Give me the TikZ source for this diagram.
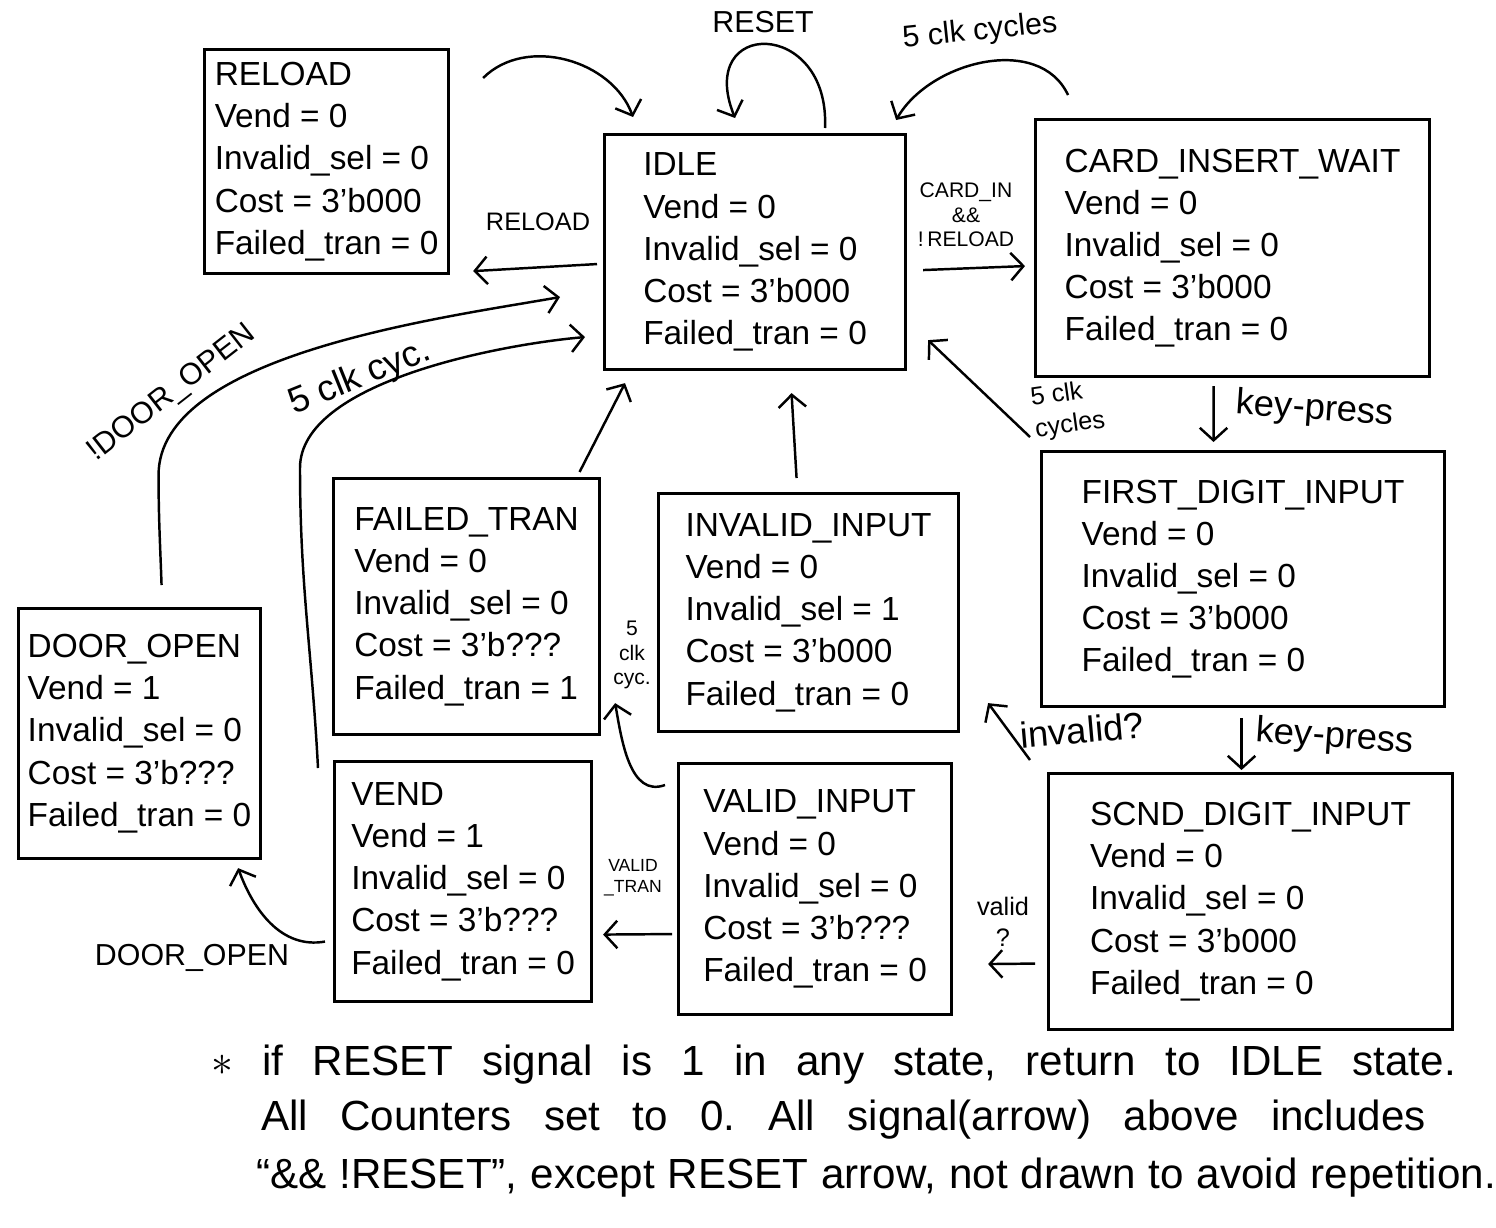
\documentclass[tikz,border=0pt]{standalone}
\usepackage{fontspec}
\setmainfont{Liberation Sans}
\usetikzlibrary{arrows.meta}

\begin{document}
\begin{tikzpicture}[x=0.02cm, y=-0.02cm,
        state/.style={draw, line width=1.8pt, anchor=north west, align=left,
            font=\fontsize{19}{24}\selectfont},
        arr/.style={line width=1.4pt, -{Straight Barb[length=2.5mm, width=5.5mm]}},
        lbl/.style={font=\Large, align=center},
        note/.style={anchor=west, font=\fontsize{24}{30}\selectfont\frenchspacing}]

        % Page frame
        \useasboundingbox (0,0) rectangle (1496,1227);

        % States
        \node[state, minimum width=4.88cm, minimum height=4.48cm] (reload) at (203,48) {
            RELOAD\\Vend = 0\\Invalid\_sel = 0\\Cost = 3'b000\\Failed\_tran = 0
        };
        \node[state, minimum width=6.02cm, minimum height=4.70cm] (idle) at (603,133) {
            IDLE\\Vend = 0\\Invalid\_sel = 0\\Cost = 3'b000\\Failed\_tran = 0
        };
        \node[state, minimum width=7.88cm, minimum height=5.14cm] (cardwait) at (1034,118) {
            CARD\_INSERT\_WAIT\\Vend = 0\\Invalid\_sel = 0\\Cost = 3'b000\\Failed\_tran = 0
        };
        \node[state, minimum width=8.06cm, minimum height=5.10cm] (firstdig) at (1040,450) {
            FIRST\_DIGIT\_INPUT\\Vend = 0\\Invalid\_sel = 0\\Cost = 3'b000\\Failed\_tran = 0
        };
        \node[state, minimum width=8.08cm, minimum height=5.12cm] (scnddig) at (1047,772) {
            SCND\_DIGIT\_INPUT\\Vend = 0\\Invalid\_sel = 0\\Cost = 3'b000\\Failed\_tran = 0
        };
        \node[state, minimum width=6.00cm, minimum height=4.76cm] (invalidin) at (657,492) {
            INVALID\_INPUT\\Vend = 0\\Invalid\_sel = 1\\Cost = 3'b000\\Failed\_tran = 0
        };
        \node[state, minimum width=5.32cm, minimum height=5.12cm] (failed) at (332,477) {
            FAILED\_TRAN\\Vend = 0\\Invalid\_sel = 0\\Cost = 3'b???\\Failed\_tran = 1
        };
        \node[state, minimum width=5.46cm, minimum height=5.02cm] (validin) at (677,762) {
            VALID\_INPUT\\Vend = 0\\Invalid\_sel = 0\\Cost = 3'b???\\Failed\_tran = 0
        };
        \node[state, minimum width=5.14cm, minimum height=4.80cm] (vend) at (333,760) {
            VEND\\Vend = 1\\Invalid\_sel = 0\\Cost = 3'b???\\Failed\_tran = 0
        };
        \node[state, minimum width=4.84cm, minimum height=5.00cm] (dooropen) at (17,607) {
            DOOR\_OPEN\\Vend = 1\\Invalid\_sel = 0\\Cost = 3'b???\\Failed\_tran = 0
        };

        % Transitions around IDLE
        \draw[arr] ([shift={(33,30)}]reload.north east) to[out=45, in=110]
            ([shift={(30,-16)}]idle.north west);
        \draw[arr] ([shift={(222,-5)}]idle.north west) .. controls +(5,-110) and +(-40,-100) ..
            ([shift={(132,-15)}]idle.north west);
        \node[lbl, font=\LARGE] (lreset) at (763,22) {RESET};
        \draw[arr] ([shift={(34,-23)}]cardwait.north west) to[out=115, in=60]
            ([shift={(-11,-13)}]idle.north east);
        \node[lbl, font=\LARGE, rotate=6] (lcyc1) at (980,32) {5 clk cycles};
        \draw[arr] ([shift={(-6,12)}]idle.west) -- ([shift={(23,-4)}]reload.south east);
        \node[lbl] (lreload) at (538,222) {RELOAD};
        \draw[arr] ([shift={(16,18)}]idle.east) -- ([shift={(-9,18)}]cardwait.west);
        \node[lbl, font=\large] (lcard) at (966,215) {CARD\_IN\\\&\&\\!\,RELOAD};

        % Key presses
        \draw[arr] ([shift={(-19,8)}]cardwait.south) -- ([shift={(-29.5,-8)}]firstdig.north);
        \node[lbl, font=\huge, rotate=-4] (lkey1) at (1315,410) {key-press};
        \draw[arr] ([shift={(-1.5,10)}]firstdig.south) -- ([shift={(-9,-2)}]scnddig.north);
        \node[lbl, font=\huge, rotate=-4] (lkey2) at (1335,738) {key-press};
        \draw[arr] ([shift={(-10,-13)}]firstdig.north west) -- ([shift={(21,-31)}]idle.south east);
        \node[lbl, align=left, rotate=8] (lcyc2) at (1068,410) {5 clk\\cycles};

        % Checking the selection
        \draw[arr] ([shift={(-12,62)}]scnddig.west) -- ([shift={(35,75)}]validin.east);
        \node[lbl] (lvalid) at (1003,922) {valid\\?};
        \draw[arr] ([shift={(-17,-12)}]scnddig.north west) -- ([shift={(28,-30)}]invalidin.south east);
        \node[lbl, font=\huge, rotate=5] (linvalid) at (1082,730) {invalid?};
        \draw[arr] ([shift={(-12,23)}]validin.north west) to[out=200, in=-80]
            ([shift={(14,-33)}]failed.south east);
        \node[lbl, font=\large] (lcyc3) at (632,655) {5\\clk\\cyc.};
        \draw[arr] ([shift={(-5,45)}]validin.west) -- ([shift={(10,53)}]vend.east);
        \node[lbl, font=\normalsize] (lvtran) at (633,878) {VALID\\\_TRAN};

        % Back to IDLE
        \draw[arr] ([shift={(113,-5)}]failed.north) -- ([shift={(22,12)}]idle.south west);
        \draw[arr] ([shift={(-12,-14)}]invalidin.north) -- ([shift={(36.5,22)}]idle.south);
        \draw[arr] ([shift={(-15,8)}]vend.north west) to[out=93, in=-90] ++(-18,-300)
            to[out=90, in=185, looseness=0.7] ([shift={(-18,85)}]idle.west);
        \node[lbl, font=\huge, rotate=22] (lcyc4) at (360,378) {5 clk cyc.};
        \draw[arr] ([shift={(22,-22)}]dooropen.north) to[out=92, in=-90] ++(-3,-110)
            to[out=90, in=190, looseness=0.7] ([shift={(-43,45)}]idle.west);
        \node[lbl, font=\LARGE, rotate=38] (ldoor) at (172,393) {!DOOR\_OPEN};
        \draw[arr] ([shift={(-8,60)}]vend.west) to[out=190, in=-70]
            ([shift={(-24,8)}]dooropen.south east);
        \node[lbl, font=\LARGE] (ldoor2) at (192,958) {DOOR\_OPEN};

        % Note
        \node[note] (note1) at (205,1065)
            {\makebox[24.9cm][s]{$\ast$ if RESET signal is 1 in any state, return to IDLE state.}};
        \node[note] (note2) at (255,1120)
            {\makebox[23.3cm][s]{All Counters set to 0. All signal(arrow) above includes}};
        \node[note] (note3) at (250,1178)
            {\makebox[24.8cm][s]{``\&\& !RESET'', except RESET arrow, not drawn to avoid repetition.}};

    \end{tikzpicture}
\end{document}
